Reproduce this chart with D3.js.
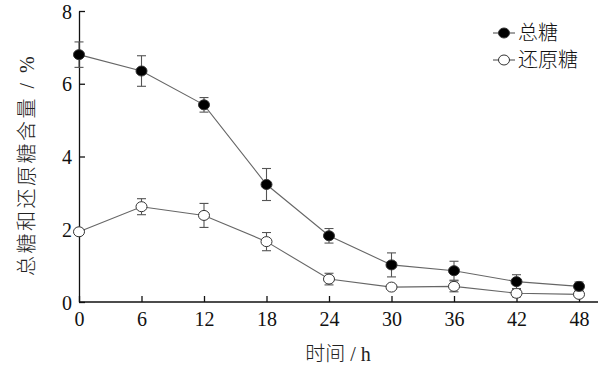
<!DOCTYPE html>
<html><head><meta charset="utf-8">
<script src="https://cdn.jsdelivr.net/npm/d3@7"></script>
<style>body{margin:0;background:#fff}svg{display:block}</style>
</head><body>
<svg id="c" width="600" height="367"></svg>
<script>
const hours = [0, 6, 12, 18, 24, 30, 36, 42, 48];
const totalSugar = [6.80, 6.35, 5.42, 3.23, 1.82, 1.02, 0.86, 0.56, 0.43];
const totalErr = [0.35, 0.42, 0.20, 0.44, 0.20, 0.33, 0.26, 0.19, 0.12];
const reducingSugar = [1.93, 2.62, 2.38, 1.66, 0.63, 0.41, 0.43, 0.24, 0.21];
const reducingErr = [0.04, 0.22, 0.33, 0.25, 0.16, 0.05, 0.15, 0.10, 0.06];
const xTicks = [0, 6, 12, 18, 24, 30, 36, 42, 48];
const yTicks = [0, 2, 4, 6, 8];
const seriesNames = ["总糖", "还原糖"];
const xTitleParts = ["时间", " / h"];
const yTitleParts = ["总糖和还原糖含量", " / %"];

const svg = d3.select("#c");
const x = d3.scaleLinear().domain([0, 48]).range([79, 579]);
const y = d3.scaleLinear().domain([0, 8]).range([302, 11]);
const serif = "'Liberation Serif','Times New Roman',serif";
const cjk = "'Noto Sans CJK SC',sans-serif";

// axes
const xAxis = d3.axisBottom(x).tickValues(xTicks).tickSizeInner(-6).tickSizeOuter(0).tickPadding(10);
const gx = svg.append("g").attr("transform", "translate(0,302)").call(xAxis);
gx.select(".domain").attr("d", "M79,0H598");
const yAxis = d3.axisLeft(y).tickValues(yTicks).tickSizeInner(-6).tickSizeOuter(0).tickPadding(7);
const gy = svg.append("g").attr("transform", "translate(79,0)").call(yAxis);
[gx, gy].forEach(g => {
  g.selectAll("path,line").attr("stroke", "#111").attr("stroke-width", 1.3);
  g.selectAll("text").attr("font-family", serif).attr("font-size", 20).attr("fill", "#111");
});
gx.selectAll("text").attr("dy", "0.71em");
gy.selectAll("text").attr("dy", "0.35em");

// titles
function mixed(sel, parts, size) {
  sel.append("tspan").attr("font-family", cjk).attr("font-weight", 300).text(parts[0]);
  sel.append("tspan").attr("font-family", serif).text(parts[1]);
  sel.attr("font-size", size).attr("fill", "#222");
}
const xt = svg.append("text").attr("x", 338).attr("y", 361).attr("text-anchor", "middle");
mixed(xt, xTitleParts, 20);
const yt = svg.append("text").attr("transform", "translate(34,165) rotate(-90)").attr("text-anchor", "middle")
  .attr("letter-spacing", 2.5);
mixed(yt, yTitleParts, 20);

function drawSeries(vals, errs, filled) {
  const data = hours.map((h, i) => ({h, v: vals[i], e: errs[i]}));
  svg.append("path").datum(data)
    .attr("d", d3.line().x(d => x(d.h)).y(d => y(d.v)))
    .attr("fill", "none").attr("stroke", "#666").attr("stroke-width", 1.1);
  const eb = svg.append("g").attr("stroke", "#555").attr("stroke-width", 1.1);
  data.forEach(d => {
    const xc = x(d.h), y1 = y(d.v + d.e), y2 = y(d.v - d.e);
    eb.append("line").attr("x1", xc).attr("x2", xc).attr("y1", y1).attr("y2", y2);
    eb.append("line").attr("x1", xc - 4.5).attr("x2", xc + 4.5).attr("y1", y1).attr("y2", y1);
    eb.append("line").attr("x1", xc - 4.5).attr("x2", xc + 4.5).attr("y1", y2).attr("y2", y2);
  });
  svg.append("g").selectAll("ellipse").data(data).join("ellipse")
    .attr("cx", d => x(d.h)).attr("cy", d => y(d.v)).attr("rx", 5.5).attr("ry", 5)
    .attr("fill", filled ? "#000" : "#fff").attr("stroke", "#333").attr("stroke-width", 1);
}
drawSeries(reducingSugar, reducingErr, false);
drawSeries(totalSugar, totalErr, true);

// legend
const leg = svg.append("g");
seriesNames.forEach((n, i) => {
  const yy = 33 + i * 27;
  leg.append("line").attr("x1", 493).attr("x2", 515).attr("y1", yy).attr("y2", yy).attr("stroke", "#555").attr("stroke-width", 1.1);
  leg.append("ellipse").attr("cx", 504).attr("cy", yy).attr("rx", 5.5).attr("ry", 5)
    .attr("fill", i === 0 ? "#000" : "#fff").attr("stroke", "#333");
  leg.append("text").attr("x", 518).attr("y", yy).attr("dy", "0.36em")
    .attr("font-family", cjk).attr("font-weight", 300).attr("font-size", 20).attr("fill", "#111").text(n);
});
</script>
</body></html>
